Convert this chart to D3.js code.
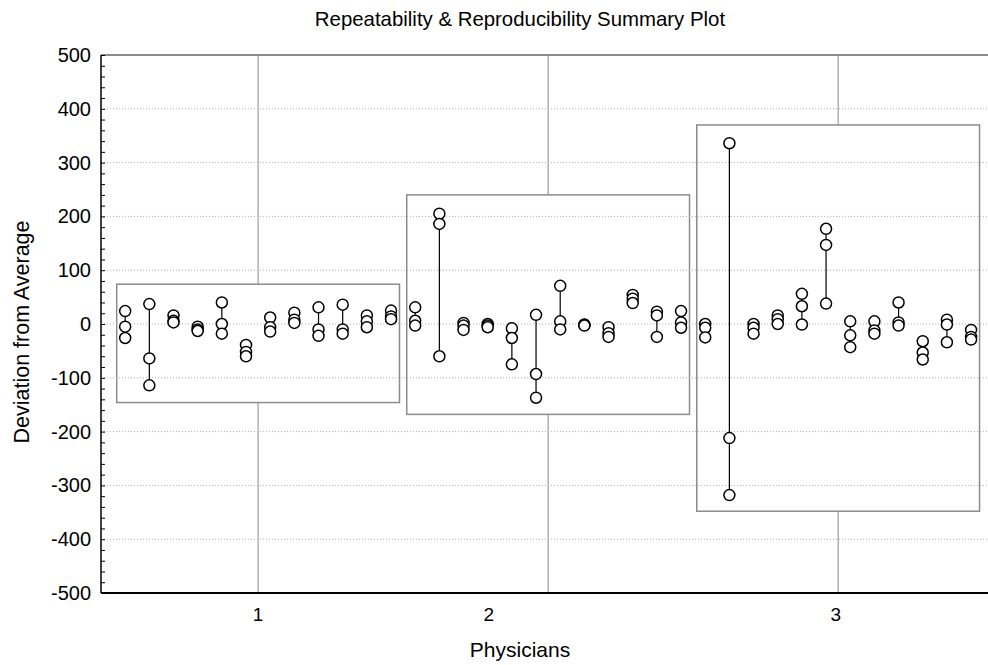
<!DOCTYPE html>
<html>
<head>
<meta charset="utf-8">
<script src="https://cdn.jsdelivr.net/npm/d3@7"></script>
<style>
  html, body { margin: 0; padding: 0; background: #fff; }
  svg { display: block; font-family: "Liberation Sans", Arial, sans-serif; }
</style>
</head>
<body>
<svg id="chart" width="988" height="665"></svg>
<script>
// ---------- data ----------
const physicians = ["1", "2", "3"];
const partsPerPhysician = 12;
// three repeated readings (deviation from average) for each of 36 part/physician columns
const readingA = [24, 37, 16, -5, 40, -39, 12, 21, 31, 36, 16, 25,
                  31, 205, 2, 0, -8, 17, 71, -1, -6, 54, 23, 24,
                  0, 336, 0, 16, 56, 177, 5, 5, 40, -32, 8, -11];
const readingB = [-5, -64, 6, -10, 0, -52, -6, 8, -10, -10, 5, 14,
                  6, 186, -3, -3, -26, -93, 5, -2, -17, 47, 16, 3,
                  -7, -212, -7, 9, 33, 147, -21, -12, 3, -53, -1, -24];
const readingC = [-26, -114, 3, -13, -18, -60, -14, 2, -22, -18, -6, 9,
                  -3, -60, -11, -6, -75, -137, -10, -3, -24, 39, -24, -7,
                  -25, -318, -18, 0, -1, 38, -43, -18, -3, -66, -34, -29];
// summary box limits per physician
const boxLow  = [-146, -168, -348];
const boxHigh = [74, 240, 370];
const yTicks = [-500, -400, -300, -200, -100, 0, 100, 200, 300, 400, 500];

// ---------- layout ----------
const svg = d3.select("#chart");
const nParts = physicians.length * partsPerPhysician;
const x = d3.scaleLinear().domain([0, nParts + 0.7]).range([101, 988]);
const y = d3.scaleLinear().domain([-500, 500]).range([593, 55]);
const labelPos = [6.5, 16.05, 30.4];

const cols = d3.range(nParts).map(i => {
  const vals = [readingA[i], readingB[i], readingC[i]];
  return { k: i + 1, vals, min: d3.min(vals), max: d3.max(vals) };
});

// vertical grid lines (centre of each physician group)
svg.append("g").selectAll("line").data(physicians).join("line")
  .attr("x1", (d, g) => x(g * partsPerPhysician + 6.5))
  .attr("x2", (d, g) => x(g * partsPerPhysician + 6.5))
  .attr("y1", y(500)).attr("y2", y(-500))
  .attr("stroke", "#8a8a8a").attr("stroke-width", 1);

// boxes
svg.append("g").selectAll("rect").data(physicians).join("rect")
  .attr("x", (d, g) => x(g * partsPerPhysician + 0.65))
  .attr("width", (d, g) => x(g * partsPerPhysician + 12.35) - x(g * partsPerPhysician + 0.65))
  .attr("y", (d, g) => y(boxHigh[g]))
  .attr("height", (d, g) => y(boxLow[g]) - y(boxHigh[g]))
  .attr("fill", "#fff").attr("stroke", "#8c8c8c").attr("stroke-width", 1.5);

// horizontal dotted grid
svg.append("g").selectAll("line").data(yTicks.filter(v => v > -500 && v < 500)).join("line")
  .attr("x1", x(0)).attr("x2", 988)
  .attr("y1", d => y(d)).attr("y2", d => y(d))
  .attr("stroke", "#b0b0b0").attr("stroke-width", 1).attr("stroke-dasharray", "1,2");

// top frame line
svg.append("line").attr("x1", x(0)).attr("x2", 988)
  .attr("y1", y(500)).attr("y2", y(500))
  .attr("stroke", "#8a8a8a").attr("stroke-width", 2);

// range lines
svg.append("g").selectAll("line").data(cols).join("line")
  .attr("x1", d => x(d.k)).attr("x2", d => x(d.k))
  .attr("y1", d => y(d.max)).attr("y2", d => y(d.min))
  .attr("stroke", "#000").attr("stroke-width", 1.2);

// points
const pts = cols.flatMap(c => c.vals.map(v => ({ k: c.k, v })));
svg.append("g").selectAll("circle").data(pts).join("circle")
  .attr("cx", d => x(d.k)).attr("cy", d => y(d.v)).attr("r", 5.5)
  .attr("fill", "#fff").attr("stroke", "#000").attr("stroke-width", 1.5);

// y axis
const yAxis = d3.axisRight(y).tickValues(d3.range(-500, 501, 20)).tickSize(4).tickFormat("");
const gy = svg.append("g").attr("transform", `translate(${x(0)},0)`).call(yAxis);
gy.select(".domain").remove();
gy.selectAll(".tick line").attr("stroke", "#000");
svg.append("line").attr("x1", x(0)).attr("x2", x(0)).attr("y1", y(500)).attr("y2", y(-500))
  .attr("stroke", "#000").attr("stroke-width", 1.5);
svg.append("g").selectAll("text").data(yTicks).join("text")
  .attr("x", x(0) - 10).attr("y", d => y(d)).attr("dy", "0.35em")
  .attr("text-anchor", "end").attr("font-size", 20).attr("fill", "#000")
  .text(d => d);

// x axis
svg.append("line").attr("x1", x(0)).attr("x2", 988).attr("y1", y(-500)).attr("y2", y(-500))
  .attr("stroke", "#000").attr("stroke-width", 2);
svg.append("g").selectAll("text").data(physicians).join("text")
  .attr("x", (d, i) => x(labelPos[i])).attr("y", 621)
  .attr("text-anchor", "middle").attr("font-size", 19).attr("fill", "#000")
  .text(d => d);

// titles
svg.append("text").attr("x", 520).attr("y", 26).attr("text-anchor", "middle")
  .attr("font-size", 20.4).attr("fill", "#000")
  .text("Repeatability & Reproducibility Summary Plot");
svg.append("text").attr("x", 520).attr("y", 657).attr("text-anchor", "middle")
  .attr("font-size", 21).attr("fill", "#000").text("Physicians");
svg.append("text").attr("transform", "translate(28.5,332) rotate(-90)")
  .attr("text-anchor", "middle").attr("font-size", 21.5).attr("fill", "#000")
  .text("Deviation from Average");
</script>
</body>
</html>
